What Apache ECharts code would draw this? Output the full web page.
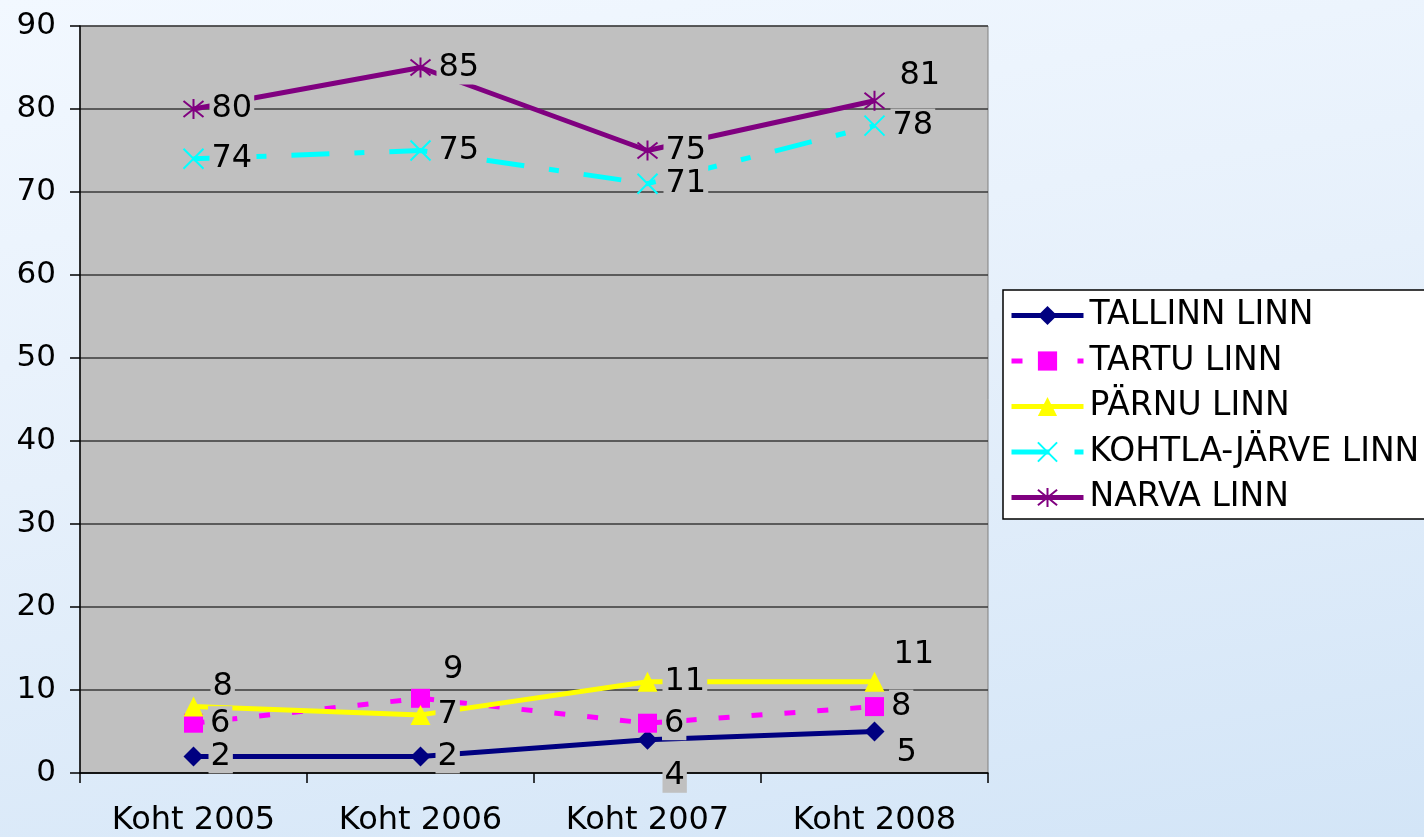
<!DOCTYPE html>
<html>
<head>
<meta charset="utf-8">
<script src="https://cdn.jsdelivr.net/npm/echarts@6/dist/echarts.min.js"></script>
<style>
  html, body { margin: 0; padding: 0; }
  body {
    width: 1424px; height: 837px; overflow: hidden;
    background: linear-gradient(170deg, #f2f8ff 0%, #e6f0fb 45%, #d3e5f7 100%);
  }
  #chart { width: 1424px; height: 837px; }
</style>
</head>
<body>
<div id="chart"></div>
<script>
// kategooriad ja väärtused
const categories = ['Koht 2005', 'Koht 2006', 'Koht 2007', 'Koht 2008'];
const tallinn = [2, 2, 4, 5];
const tartu = [6, 9, 6, 8];
const parnu = [8, 7, 11, 11];
const kohtla = [74, 75, 71, 78];
const narva = [80, 85, 75, 81];
const names = ['TALLINN LINN', 'TARTU LINN', 'PÄRNU LINN', 'KOHTLA-JÄRVE LINN', 'NARVA LINN'];

const FONT = 'DejaVu Sans';

// label nudges (index -> [dx, dy]) so they sit like in the original
const nudges = [
  { 2: [0, 36], 3: [5, 21] },
  { 1: [6, -29] },
  { 0: [2, -20], 3: [2, -27] },
  {},
  { 3: [7, -25] }
];

function withLabels(values, idx) {
  return values.map((v, i) => {
    const off = nudges[idx][i];
    return off ? { value: v, label: { offset: off } } : v;
  });
}

const crossPath = 'path://M0,0L10,10M10,0L0,10';
const starPath = 'path://M5,0L5,10M1,1L9,9M9,1L1,9';

function makeSeries(name, values, idx, opts) {
  return Object.assign({
    name,
    type: 'line',
    data: withLabels(values, idx),
    symbolSize: 18,
    lineStyle: { width: 5, color: opts.color, type: opts.dash || 'solid' },
    itemStyle: { color: opts.color },
    label: {
      show: true,
      position: 'right',
      distance: 5,
      color: '#000',
      fontFamily: FONT,
      fontSize: 32,
      backgroundColor: '#C0C0C0',
      padding: [1, 2]
    },
    emphasis: { disabled: true }
  }, opts.extra || {});
}

const chart = echarts.init(document.getElementById('chart'));
chart.setOption({
  animation: false,
  backgroundColor: 'transparent',
  grid: {
    left: 80, top: 26, right: 436, bottom: 63,
    show: true,
    backgroundColor: '#C0C0C0',
    borderColor: '#808080',
    borderWidth: 1
  },
  legend: {
    orient: 'vertical',
    left: 1003,
    top: 290,
    padding: [9, 6, 5, 6],
    itemGap: 12.5,
    itemWidth: 72,
    itemHeight: 24,
    backgroundColor: '#fff',
    borderColor: '#000',
    borderWidth: 1.5,
    borderRadius: 0,
    lineStyle: { width: 5 },
    textStyle: { fontFamily: FONT, fontSize: 33, color: '#000', lineHeight: 30, padding: [0, 0, 0, 1] },
    data: names
  },
  xAxis: {
    type: 'category',
    data: categories,
    boundaryGap: true,
    axisLine: { lineStyle: { color: '#000', width: 1.5 } },
    axisTick: { show: true, length: 10, inside: false, lineStyle: { color: '#000', width: 1.5 } },
    axisLabel: { fontFamily: FONT, fontSize: 32, color: '#000', margin: 32 }
  },
  yAxis: {
    type: 'value',
    min: 0, max: 90, interval: 10,
    axisLine: { show: true, lineStyle: { color: '#000', width: 1.5 } },
    axisTick: { show: true, length: 10, lineStyle: { color: '#000', width: 1.5 } },
    axisLabel: { fontFamily: FONT, fontSize: 31, color: '#000', margin: 24 },
    splitLine: { show: true, lineStyle: { color: '#3a3a3a', width: 1.5 } }
  },
  series: [
    makeSeries(names[0], tallinn, 0, { color: '#000080', extra: { symbol: 'diamond', symbolSize: 20 } }),
    makeSeries(names[1], tartu, 1, { color: '#FF00FF', dash: [11, 22], extra: { symbol: 'rect', symbolSize: 19 } }),
    makeSeries(names[2], parnu, 2, { color: '#FFFF00', extra: { symbol: 'triangle', symbolSize: 20 } }),
    makeSeries(names[3], kohtla, 3, {
      color: '#00FFFF', dash: [38, 25, 10, 25],
      extra: { symbol: crossPath, symbolSize: 20, itemStyle: { color: '#00FFFF', borderColor: '#00FFFF', borderWidth: 2 } }
    }),
    makeSeries(names[4], narva, 4, {
      color: '#800080',
      extra: { symbol: starPath, symbolSize: 20, itemStyle: { color: '#800080', borderColor: '#800080', borderWidth: 2 } }
    })
  ]
});
</script>
</body>
</html>
